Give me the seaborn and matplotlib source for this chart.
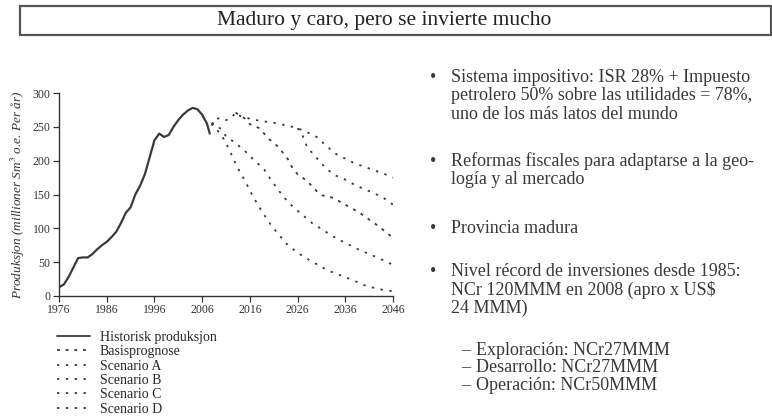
"""Slide: historic + forecast production (left) and bullet notes (right)."""
import matplotlib

matplotlib.use("Agg")
import matplotlib.pyplot as plt
import numpy as np
import pandas as pd
import seaborn as sns
from matplotlib.patches import Rectangle

# --------------------------------------------------------------------------- #
# Data
# --------------------------------------------------------------------------- #
hist_years = [1976, 1977, 1978, 1979, 1980, 1981, 1982, 1983, 1984, 1985, 1986,
              1987, 1988, 1989, 1990, 1991, 1992, 1993, 1994, 1995, 1996, 1997,
              1998, 1999, 2000, 2001, 2002, 2003, 2004, 2005, 2006, 2007, 2007.6]
hist_values = [13, 17, 28, 42, 56, 57, 57, 62, 69, 75, 80, 87, 95, 108, 123, 131,
               150, 163, 180, 205, 230, 240, 235, 238, 250, 260, 268, 274, 278,
               276, 268, 255, 240]

scen_a_years = [2008, 2009, 2010, 2011, 2012, 2013, 2014, 2016, 2018, 2020, 2022,
                2024, 2025, 2026, 2028, 2030, 2032, 2034, 2036, 2038, 2040, 2042,
                2044, 2046]
scen_a_values = [252, 262, 263, 260, 262, 271, 266, 262, 259, 257, 255, 251, 250,
                 248, 242, 235, 222, 210, 203, 196, 191, 186, 181, 175]

scen_b_years = [2026, 2027, 2028, 2030, 2032, 2034, 2036, 2038, 2040, 2042, 2044,
                2046]
scen_b_values = [248, 238, 220, 204, 188, 178, 172, 164, 158, 152, 145, 135]

basis_years = [2013, 2015, 2016, 2018, 2020, 2022, 2024, 2025, 2026, 2028, 2030,
               2031, 2033, 2035, 2037, 2039, 2041, 2043, 2046]
basis_values = [271, 262, 254, 248, 232, 220, 202, 188, 180, 170, 155, 149, 146,
                139, 131, 123, 113, 103, 86]

scen_c_years = [2008, 2009, 2010, 2011, 2013, 2015, 2017, 2019, 2021, 2023, 2025,
                2027, 2029, 2031, 2033, 2035, 2037, 2039, 2041, 2043, 2046]
scen_c_values = [256, 253, 246, 236, 226, 214, 200, 187, 166, 147, 132, 120, 108,
                 99, 90, 82, 75, 68, 62, 56, 46]

scen_d_years = [2008, 2010, 2011, 2012, 2013, 2014, 2015, 2016, 2017, 2018, 2020,
                2022, 2024, 2026, 2028, 2030, 2032, 2034, 2036, 2038, 2040, 2042,
                2044, 2046]
scen_d_values = [255, 238, 226, 211, 196, 182, 170, 156, 143, 131, 109, 91, 75,
                 64, 55, 47, 39, 33, 28, 22, 16, 12, 9, 7]

series_names = ["Historisk produksjon", "Basisprognose", "Scenario A",
                "Scenario B", "Scenario C", "Scenario D"]
x_ticks = [1976, 1986, 1996, 2006, 2016, 2026, 2036, 2046]
y_ticks = [0, 50, 100, 150, 200, 250, 300]

title = "Maduro y caro, pero se invierte mucho"
y_label = "Produksjon (millioner Sm$^3$ o.e. Per år)"

# --------------------------------------------------------------------------- #
# Long-form table for seaborn
# --------------------------------------------------------------------------- #
parts = [
    (series_names[0], hist_years, hist_values),
    (series_names[1], basis_years, basis_values),
    (series_names[2], scen_a_years, scen_a_values),
    (series_names[3], scen_b_years, scen_b_values),
    (series_names[4], scen_c_years, scen_c_values),
    (series_names[5], scen_d_years, scen_d_values),
]
df = pd.concat(
    [pd.DataFrame({"year": y, "value": v, "serie": n}) for n, y, v in parts],
    ignore_index=True,
)

sns.set_theme(style="ticks")
plt.rcParams["font.family"] = ["Liberation Serif", "DejaVu Serif"]
plt.rcParams["mathtext.fontset"] = "stix"

line_col = "#3a3a3a"
palette = {n: line_col for n in series_names}
dashes = {n: (1.3, 3.6) for n in series_names}
dashes[series_names[0]] = ""
dashes[series_names[1]] = (1.6, 3.2)

fig = plt.figure(figsize=(7.72, 4.2), dpi=100)
ax = fig.add_axes([59 / 772, 1 - 296 / 420, 334 / 772, 203 / 420])

sns.lineplot(data=df, x="year", y="value", hue="serie", style="serie",
             palette=palette, dashes=dashes, hue_order=series_names,
             style_order=series_names, sort=False, estimator=None,
             linewidth=1.3, ax=ax)
ax.lines[0].set_linewidth(1.6)

handles, labels = ax.get_legend_handles_labels()
ax.get_legend().remove()
fig.legend(handles, labels, loc="upper left",
           bbox_to_anchor=(54 / 772, 1 - 328 / 420), frameon=False,
           fontsize=10, handlelength=2.4, handletextpad=0.7, labelspacing=0.1,
           borderaxespad=0, borderpad=0.2)

ax.set_xlim(1976, 2046)
ax.set_ylim(0, 300)
ax.set_xticks(x_ticks)
ax.set_yticks(y_ticks)
ax.set_xlabel("")
ax.set_ylabel(y_label, fontstyle="italic", fontsize=9.5, color="#333333",
              labelpad=4)
ax.tick_params(direction="out", length=4, width=0.9, colors="#333333",
               labelsize=8.5, pad=2)
sns.despine(ax=ax)
for side in ("left", "bottom"):
    ax.spines[side].set_color("#333333")
    ax.spines[side].set_linewidth(1.0)
ax.grid(False)

# title box
fig.patches.append(Rectangle((20 / 772, 1 - 35 / 420), 751 / 772, 29 / 420,
                             transform=fig.transFigure, fill=False,
                             edgecolor="#555555", linewidth=1.6))
fig.text(384 / 772, 1 - 21 / 420, title, ha="center", va="center",
         fontsize=15.5, color="#222222")

# bullet notes on the right
txt_kw = dict(fontsize=13, color="#383838", va="baseline")
bullets = [
    (82, ["Sistema impositivo: ISR 28% + Impuesto",
          "petrolero 50% sobre las utilidades = 78%,",
          "uno de los más latos del mundo"]),
    (166, ["Reformas fiscales para adaptarse a la geo-",
           "logía y al mercado"]),
    (233, ["Provincia madura"]),
    (276, ["Nivel récord de inversiones desde 1985:",
           "NCr 120MMM en 2008 (apro x US$",
           "24 MMM)"]),
]
step = 18.5
for base, lines in bullets:
    fig.text(430 / 772, 1 - base / 420, "•", **txt_kw)
    for i, line in enumerate(lines):
        fig.text(451 / 772, 1 - (base + i * step) / 420, line, **txt_kw)

subs = ["Exploración: NCr27MMM", "Desarrollo: NCr27MMM", "Operación: NCr50MMM"]
for i, line in enumerate(subs):
    b = 355 + i * 17.5
    fig.text(461 / 772, 1 - b / 420, "–", **txt_kw)
    fig.text(476 / 772, 1 - b / 420, line, **txt_kw)

fig.savefig("out.png", dpi=100)
plt.close(fig)
